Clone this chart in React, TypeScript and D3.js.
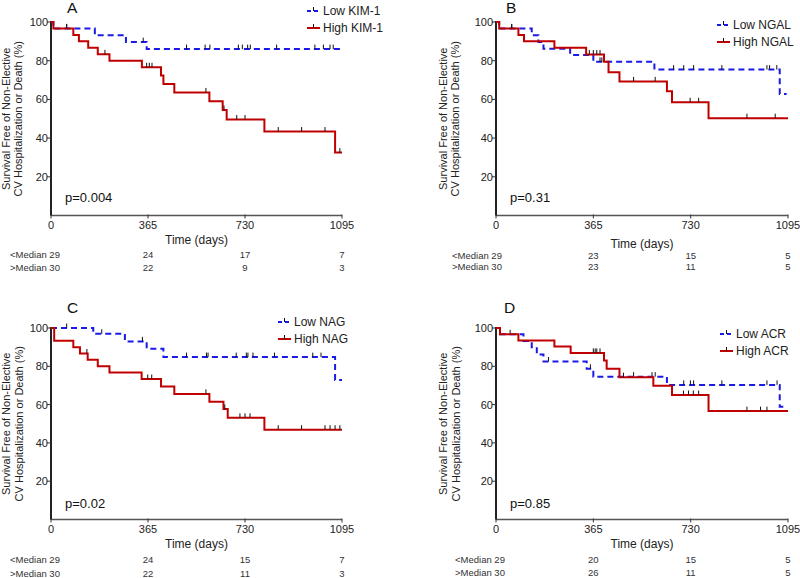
import React from 'react';
import * as d3 from 'd3';

// ---------- data ----------
const timeTicks = [0, 365, 730, 1095];
const survTicks = [20, 40, 60, 80, 100];
const riskLabels = ['<Median', '>Median'];
const riskInitial = [29, 30];
const riskTimes = [365, 730, 1095];

// Panel A (KIM-1)
const aLowT = [9, 165, 282, 360];
const aLowS = [96.6, 93.1, 89.6, 86.0];
const aLowC = [59, 347, 510, 580, 598, 705, 720, 740, 750, 849, 993, 1025, 1050, 1062];
const aHighT = [9, 84, 105, 140, 176, 220, 342, 414, 423, 464, 596, 646, 661, 803, 1069];
const aHighS = [96.7, 93.3, 90, 86.7, 83.3, 80, 76.6, 72.3, 67.9, 63.6, 59.1, 54.5, 49.6, 43.4, 32.5];
const aHighC = [59, 203, 360, 370, 380, 583, 651, 699, 730, 855, 943, 1031, 1087];
const aRiskLow = [24, 17, 7];
const aRiskHigh = [22, 9, 3];

// Panel B (NGAL)
const bLowT = [12, 134, 159, 178, 278, 365, 594, 1064];
const bLowS = [96.6, 93.2, 89.7, 86.2, 83.0, 79.4, 75.4, 62.8];
const bLowC = [59, 390, 397, 666, 704, 741, 847, 1016, 1026, 1053];
const bHighT = [12, 84, 105, 219, 338, 405, 422, 463, 641, 660, 797];
const bHighS = [96.7, 93.3, 90, 86.7, 83.2, 79.5, 74, 69.3, 64.2, 58.5, 50.3];
const bHighC = [59, 350, 365, 378, 390, 516, 597, 728, 760, 941, 1047];
const bRiskLow = [23, 15, 5];
const bRiskHigh = [23, 11, 5];

// Panel C (NAG)
const cLowT = [159, 278, 360, 423, 1069];
const cLowS = [97.0, 93.0, 89.2, 84.8, 72.9];
const cLowC = [59, 191, 344, 510, 585, 591, 697, 735, 741, 760, 841, 985, 1016];
const cHighT = [12, 84, 109, 138, 176, 220, 341, 414, 464, 596, 649, 665, 803];
const cHighS = [93.4, 90, 86.7, 83.4, 80, 76.7, 73.4, 69.4, 65.6, 61.5, 57.7, 53.1, 46.9];
const cHighC = [135, 364, 379, 583, 654, 711, 730, 749, 855, 943, 1031, 1050, 1069, 1087];
const cRiskLow = [24, 15, 7];
const cRiskHigh = [22, 11, 3];

// Panel D (ACR)
const dLowT = [15, 103, 134, 153, 178, 340, 365, 641, 1064];
const dLowS = [96.7, 93.2, 90, 86.2, 82.5, 78.7, 74.6, 70.3, 58.9];
const dLowC = [53, 197, 354, 516, 585, 597, 704, 729, 741, 847, 1016, 1054];
const dHighT = [15, 84, 219, 280, 405, 415, 463, 590, 660, 797];
const dHighS = [96.7, 93.5, 90.4, 87, 83, 78.7, 74.3, 69.8, 65, 56.6];
const dHighC = [365, 372, 378, 390, 478, 703, 722, 740, 760, 941, 992, 1016];
const dRiskLow = [20, 15, 5];
const dRiskHigh = [26, 11, 5];

const markers = ['KIM-1', 'NGAL', 'NAG', 'ACR'];
const pValues = ['p=0.004', 'p=0.31', 'p=0.02', 'p=0.85'];
const letters = ['A', 'B', 'C', 'D'];

// ---------- layout ----------
const FONT = '"Liberation Sans", Arial, Helvetica, sans-serif';
const BLUE = '#1a1ae6';
const RED = '#c00000';
const INK = '#222';

const layouts = [
  { x0: 51, x1: 342, yTop: 22, yBot: 215.5, letterX: 67, letterY: 13, legX: 307, legY: 11, t1: 10, t2: 22, tickY: 229, timeY: 244, r1: 258, r2: 271, pY: 202, lblX: 10 },
  { x0: 496, x1: 788, yTop: 22, yBot: 215.5, letterX: 506, letterY: 13, legX: 717, legY: 25, t1: 447, t2: 459, tickY: 229, timeY: 248, r1: 259, r2: 270, pY: 202, lblX: 452 },
  { x0: 51, x1: 342, yTop: 328, yBot: 519.5, letterX: 67, letterY: 313, legX: 278, legY: 322, t1: 10, t2: 23, tickY: 533, timeY: 548, r1: 563, r2: 577, pY: 508, lblX: 10 },
  { x0: 496, x1: 788, yTop: 328, yBot: 519.5, letterX: 504, letterY: 313, legX: 720, legY: 334, t1: 447, t2: 460, tickY: 533, timeY: 548, r1: 563, r2: 576, pY: 508, lblX: 455 },
];

const series = [
  { lowT: aLowT, lowS: aLowS, lowC: aLowC, highT: aHighT, highS: aHighS, highC: aHighC, rl: aRiskLow, rh: aRiskHigh, lowEnd: 1095 },
  { lowT: bLowT, lowS: bLowS, lowC: bLowC, highT: bHighT, highS: bHighS, highC: bHighC, rl: bRiskLow, rh: bRiskHigh, lowEnd: 1090 },
  { lowT: cLowT, lowS: cLowS, lowC: cLowC, highT: cHighT, highS: cHighS, highC: cHighC, rl: cRiskLow, rh: cRiskHigh, lowEnd: 1095 },
  { lowT: dLowT, lowS: dLowS, lowC: dLowC, highT: dHighT, highS: dHighS, highC: dHighC, rl: dRiskLow, rh: dRiskHigh, lowEnd: 1090 },
];

function survAt(times: number[], surv: number[], t: number) {
  let s = 100;
  for (let i = 0; i < times.length; i++) if (times[i] <= t) s = surv[i];
  return s;
}

function Curve({ times, surv, cens, end, x, y, color, dashed }: any) {
  const pts: [number, number][] = [[0, 100], ...times.map((t: number, i: number) => [t, surv[i]] as [number, number]), [end, surv[surv.length - 1]]];
  const line = d3.line<[number, number]>().x(d => x(d[0])).y(d => y(d[1])).curve(d3.curveStepAfter);
  return (
    <g>
      <path d={line(pts) || ''} fill="none" stroke={color} strokeWidth={2} strokeDasharray={dashed ? '6,4' : undefined} />
      {cens.map((c: number, i: number) => {
        const yy = y(survAt(times, surv, c));
        return <line key={i} x1={x(c)} x2={x(c)} y1={yy - 4.5} y2={yy} stroke="#111" strokeWidth={1} />;
      })}
    </g>
  );
}

function Panel({ idx }: { idx: number }) {
  const L = layouts[idx];
  const S = series[idx];
  const x = d3.scaleLinear().domain([0, 1095]).range([L.x0, L.x1]);
  const y = d3.scaleLinear().domain([0, 100]).range([L.yBot, L.yTop]);
  const midY = (L.yTop + L.yBot) / 2;
  return (
    <g fontFamily={FONT}>
      <text x={L.letterX} y={L.letterY} fontSize={15.5} fill="#111">{letters[idx]}</text>
      {/* y-axis title */}
      <text transform={`translate(${L.t1},${midY}) rotate(-90)`} textAnchor="middle" fontSize={11} fill={INK}>Survival Free of Non-Elective</text>
      <text transform={`translate(${L.t2},${midY}) rotate(-90)`} textAnchor="middle" fontSize={11} fill={INK}>CV Hospitalization or Death (%)</text>
      {/* axes */}
      <line x1={L.x0} x2={L.x1} y1={L.yBot} y2={L.yBot} stroke="#555" strokeWidth={1.3} />
      {timeTicks.map(t => (
        <g key={t}>
          <line x1={x(t)} x2={x(t)} y1={L.yBot - 1} y2={L.yBot + 3} stroke="#333" strokeWidth={1} />
          <text x={x(t)} y={L.tickY} textAnchor="middle" fontSize={11} fill={INK}>{t}</text>
        </g>
      ))}
      <line x1={L.x0} x2={L.x0} y1={L.yTop - 1} y2={L.yBot} stroke="#222" strokeWidth={2} />
      {survTicks.map(s => (
        <g key={s}>
          <line x1={L.x0 - 4} x2={L.x0} y1={y(s)} y2={y(s)} stroke="#333" strokeWidth={1} />
          <text x={L.x0 - 3} y={y(s) + 4} textAnchor="end" fontSize={11} fill={INK}>{s}</text>
        </g>
      ))}
      <text x={(L.x0 + L.x1) / 2} y={L.timeY} textAnchor="middle" fontSize={12} fill={INK}>Time (days)</text>
      {/* curves */}
      <Curve times={S.lowT} surv={S.lowS} cens={S.lowC} end={S.lowEnd} x={x} y={y} color={BLUE} dashed />
      <Curve times={S.highT} surv={S.highS} cens={S.highC} end={1095} x={x} y={y} color={RED} />
      {/* p value */}
      <text x={L.x0 + 14} y={L.pY} fontSize={13} fill="#111">{pValues[idx]}</text>
      {/* legend */}
      <g>
        <line x1={L.legX} x2={L.legX + 13} y1={L.legY} y2={L.legY} stroke={BLUE} strokeWidth={2} strokeDasharray="4,3" />
        <line x1={L.legX + 6.5} x2={L.legX + 6.5} y1={L.legY - 4} y2={L.legY} stroke="#111" strokeWidth={1} />
        <text x={L.legX + 16} y={L.legY + 4} fontSize={12} fill={INK}>{`Low ${markers[idx]}`}</text>
        <line x1={L.legX} x2={L.legX + 13} y1={L.legY + 17} y2={L.legY + 17} stroke={RED} strokeWidth={2} />
        <line x1={L.legX + 6.5} x2={L.legX + 6.5} y1={L.legY + 13} y2={L.legY + 17} stroke="#111" strokeWidth={1} />
        <text x={L.legX + 16} y={L.legY + 21} fontSize={12} fill={INK}>{`High ${markers[idx]}`}</text>
      </g>
      {/* risk table */}
      {[S.rl, S.rh].map((row: number[], r: number) => (
        <g key={r} fontSize={9.5} fill="#333">
          <text x={L.lblX} y={r === 0 ? L.r1 : L.r2}>{`${riskLabels[r]} ${riskInitial[r]}`}</text>
          {row.map((v, i) => (
            <text key={i} x={x(riskTimes[i])} y={r === 0 ? L.r1 : L.r2} textAnchor="middle">{v}</text>
          ))}
        </g>
      ))}
    </g>
  );
}

export default function App() {
  return (
    <svg width={800} height={578} style={{ position: 'absolute', left: 0, top: 0, background: '#fff' }}>
      <rect width={800} height={578} fill="#fff" />
      {[0, 1, 2, 3].map(i => <Panel key={i} idx={i} />)}
    </svg>
  );
}
